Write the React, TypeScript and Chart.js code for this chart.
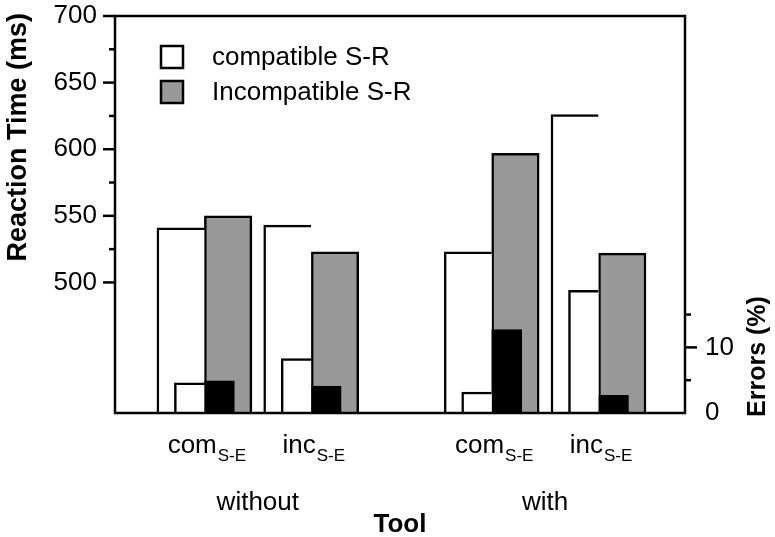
import React, { useEffect, useRef } from 'react';
import { Chart, registerables } from 'chart.js';

Chart.register(...registerables);

// ---- data ----
const conditions = ['com', 'inc', 'com', 'inc'];
const conditionSub = ['S-E', 'S-E', 'S-E', 'S-E'];
const conditionPos = [1, 2, 3.69, 4.69];
const toolGroups = ['without', 'with'];
const toolGroupMembers = [[0, 1], [2, 3]];
const rtCompatible = [541, 543, 523, 626];
const rtIncompatible = [550, 523, 597, 522];
const errCompatible = [4.6, 8.3, 3.2, 18.7];
const errIncompatible = [4.9, 4.1, 12.7, 2.7];
const rtMajorTicks = [500, 550, 600, 650, 700];
const rtMinorTicks = [525, 575, 625, 675];
const errMajorTicks = [0, 10];
const errMinorTicks = [5, 15];
const legendLabels = ['compatible S-R', 'Incompatible S-R'];
const xTitle = 'Tool';
const yTitle = 'Reaction Time (ms)';
const y2Title = 'Errors (%)';

const FONT = "'Liberation Sans', Arial, Helvetica, sans-serif";
const GRAY = '#999999';
const LW = 2.5;

const decorPlugin = {
  id: 'decor',
  afterDatasetsDraw(chart: any) {
    const ctx = chart.ctx as CanvasRenderingContext2D;
    const { left, right, top, bottom } = chart.chartArea;
    const x = chart.scales.x;
    const y = chart.scales.y;
    const y2 = chart.scales.y2;
    ctx.save();
    ctx.strokeStyle = '#000';
    ctx.fillStyle = '#000';
    ctx.lineWidth = LW;
    // frame
    ctx.strokeRect(left, top, right - left, bottom - top);
    const tick = (x0: number, x1: number, yy: number) => {
      ctx.beginPath();
      ctx.moveTo(x0, yy);
      ctx.lineTo(x1, yy);
      ctx.stroke();
    };
    rtMajorTicks.forEach(v => tick(left - 12, left, y.getPixelForValue(v)));
    rtMinorTicks.forEach(v => tick(left - 6, left, y.getPixelForValue(v)));
    errMajorTicks.filter(v => v > y2.min).forEach(v => tick(right, right + 12, y2.getPixelForValue(v)));
    errMinorTicks.forEach(v => tick(right, right + 6, y2.getPixelForValue(v)));

    // x labels with subscripts
    ctx.textBaseline = 'alphabetic';
    ctx.textAlign = 'left';
    conditions.forEach((c, i) => {
      const cx = x.getPixelForValue(conditionPos[i]);
      ctx.font = `26px ${FONT}`;
      const mw = ctx.measureText(c).width;
      ctx.font = `17px ${FONT}`;
      const sw = ctx.measureText(conditionSub[i]).width;
      const x0 = cx - (mw + sw) / 2 + 2;
      ctx.font = `26px ${FONT}`;
      ctx.fillText(c, x0, bottom + 40);
      ctx.font = `17px ${FONT}`;
      ctx.fillText(conditionSub[i], x0 + mw + 1, bottom + 48);
    });
    // group labels
    ctx.font = `26px ${FONT}`;
    ctx.textAlign = 'center';
    toolGroups.forEach((g, gi) => {
      const ps = toolGroupMembers[gi].map(i => x.getPixelForValue(conditionPos[i]));
      const cx = ps.reduce((a, b) => a + b, 0) / ps.length;
      ctx.fillText(g, cx, bottom + 97);
    });
    // x title
    ctx.font = `bold 26px ${FONT}`;
    ctx.fillText(xTitle, (left + right) / 2, bottom + 119);

    // y title (left)
    ctx.save();
    ctx.translate(19, top - 3);
    ctx.rotate(-Math.PI / 2);
    ctx.font = `bold 27px ${FONT}`;
    ctx.textAlign = 'right';
    ctx.textBaseline = 'middle';
    ctx.fillText(yTitle, 0, 0);
    ctx.restore();

    // y2 title (right)
    ctx.save();
    ctx.translate(758, bottom + 4);
    ctx.rotate(-Math.PI / 2);
    ctx.font = `bold 25px ${FONT}`;
    ctx.textAlign = 'left';
    ctx.textBaseline = 'middle';
    ctx.fillText(y2Title, 0, 0);
    ctx.restore();

    // legend
    const fills = ['#ffffff', GRAY];
    legendLabels.forEach((lab, i) => {
      const bx = left + 46;
      const by = top + 30 + i * 35;
      ctx.fillStyle = fills[i];
      ctx.fillRect(bx, by, 22, 22);
      ctx.strokeStyle = '#000';
      ctx.lineWidth = LW;
      ctx.strokeRect(bx, by, 22, 22);
      ctx.fillStyle = '#000';
      ctx.font = `26px ${FONT}`;
      ctx.textAlign = 'left';
      ctx.textBaseline = 'middle';
      ctx.fillText(lab, left + 97, by + 12);
    });
    ctx.restore();
  },
};

export default function App() {
  const ref = useRef<HTMLCanvasElement>(null);
  useEffect(() => {
    document.body.style.margin = '0';
    const canvas = ref.current!;
    const pts = (vals: number[]) => conditionPos.map((xv, i) => ({ x: xv, y: vals[i] }));
    const bw = (right: boolean) => ({ top: LW, left: LW, right: right ? LW : 0, bottom: 0 });
    const chart = new Chart(canvas, {
      type: 'bar',
      data: {
        datasets: [
          {
            label: legendLabels[0], data: pts(rtCompatible), yAxisID: 'y', stack: 'compatible',
            backgroundColor: '#ffffff', borderColor: '#000', borderWidth: bw(false) as any,
            borderSkipped: false, barThickness: 47.5, order: 2,
          },
          {
            label: legendLabels[1], data: pts(rtIncompatible), yAxisID: 'y', stack: 'incompatible',
            backgroundColor: GRAY, borderColor: '#000', borderWidth: bw(true) as any,
            borderSkipped: false, barThickness: 47.5, order: 2,
          },
          {
            label: 'Errors compatible', data: pts(errCompatible), yAxisID: 'y2', stack: 'compatible',
            backgroundColor: '#ffffff', borderColor: '#000', borderWidth: bw(false) as any,
            borderSkipped: false, barThickness: 30, order: 1,
          },
          {
            label: 'Errors incompatible', data: pts(errIncompatible), yAxisID: 'y2', stack: 'incompatible',
            backgroundColor: '#000000', borderColor: '#000', borderWidth: bw(true) as any,
            borderSkipped: false, barThickness: 30, order: 1,
          },
        ] as any,
      },
      options: {
        animation: false,
        responsive: false,
        devicePixelRatio: 1,
        layout: { padding: { top: 16, bottom: 124, left: 0, right: 0 } },
        plugins: { legend: { display: false }, tooltip: { enabled: false } },
        scales: {
          x: { type: 'linear', min: 0.163, max: 5.5, offset: false, display: false },
          y: {
            type: 'linear', position: 'left', min: 402, max: 700, stacked: false,
            grid: { display: false, drawTicks: false },
            border: { display: false },
            ticks: { color: '#000', padding: 18, font: { family: FONT, size: 26, lineHeight: 1 } },
            afterBuildTicks: (s: any) => { s.ticks = rtMajorTicks.map(v => ({ value: v })); },
            afterFit: (s: any) => { s.width = 115; s.paddingTop = 0; s.paddingBottom = 0; },
          },
          y2: {
            type: 'linear', position: 'right', min: 0, max: 60.5, stacked: false,
            grid: { display: false, drawTicks: false },
            border: { display: false },
            ticks: { color: '#000', padding: 20, font: { family: FONT, size: 26, lineHeight: 1 } },
            afterBuildTicks: (s: any) => { s.ticks = errMajorTicks.map(v => ({ value: v })); },
            afterFit: (s: any) => { s.width = 90; s.paddingTop = 0; s.paddingBottom = 0; },
          },
        } as any,
      },
      plugins: [decorPlugin],
    });
    return () => chart.destroy();
  }, []);
  return (
    <div style={{ width: 775, height: 537, background: '#fff' }}>
      <canvas ref={ref} width={775} height={537} style={{ display: 'block' }} />
    </div>
  );
}
